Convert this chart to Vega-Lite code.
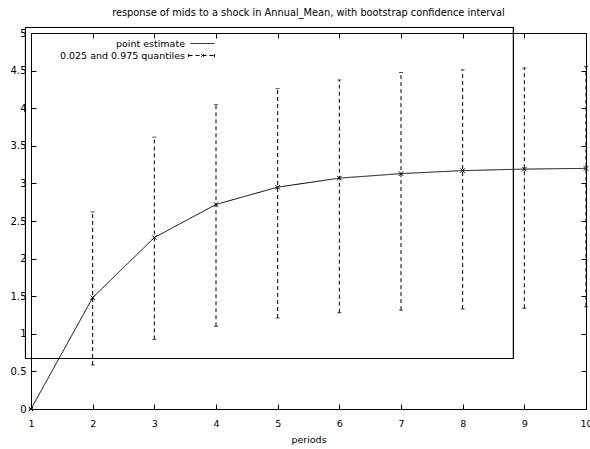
{
  "$schema": "https://vega.github.io/schema/vega-lite/v6.json",
  "width": 555,
  "height": 376,
  "autosize": {"type": "none"},
  "padding": {"left": 31, "top": 33, "right": 4, "bottom": 40},
  "background": "white",
  "config": {"view": {"stroke": null}, "font": "DejaVu Sans"},
  "title": {
    "text": "response of mids to a shock in Annual_Mean, with bootstrap confidence interval",
    "fontSize": 9.8, "fontWeight": "normal", "font": "DejaVu Sans", "color": "black",
    "anchor": "middle", "offset": 1, "baseline": "alphabetic"
  },
  "data": {"values": [
    {"period": 1, "est": 0, "lo": 0, "hi": 0},
    {"period": 2, "est": 1.48, "lo": 0.585, "hi": 2.62},
    {"period": 3, "est": 2.28, "lo": 0.925, "hi": 3.615},
    {"period": 4, "est": 2.72, "lo": 1.10, "hi": 4.05},
    {"period": 5, "est": 2.95, "lo": 1.21, "hi": 4.26},
    {"period": 6, "est": 3.07, "lo": 1.28, "hi": 4.375},
    {"period": 7, "est": 3.13, "lo": 1.315, "hi": 4.475},
    {"period": 8, "est": 3.17, "lo": 1.33, "hi": 4.51},
    {"period": 9, "est": 3.19, "lo": 1.34, "hi": 4.535},
    {"period": 10, "est": 3.20, "lo": 1.36, "hi": 4.555}
  ]},
  "layer": [
    {
      "mark": {"type": "rect", "fill": null, "stroke": "black", "strokeWidth": 1, "clip": false},
      "encoding": {
        "x": {"datum": 0.9108, "type": "quantitative", "scale": {"domain": [1, 10], "nice": false, "zero": false}, "axis": null},
        "x2": {"datum": 8.824},
        "y": {"datum": 0.6715, "type": "quantitative", "scale": {"domain": [0, 5], "nice": false}, "axis": null},
        "y2": {"datum": 5.0731}
      }
    },
    {
      "mark": {"type": "rule", "color": "black", "strokeWidth": 1, "clip": false},
      "encoding": {
        "x": {"field": "period", "type": "quantitative",
          "axis": {"orient": "bottom", "values": [1,2,3,4,5,6,7,8,9,10], "format": "d", "title": "periods",
            "grid": false, "domainColor": "black", "domainWidth": 1, "tickColor": "black", "tickSize": -5, "tickWidth": 1,
            "labelFont": "DejaVu Sans", "labelFontSize": 9.5, "labelColor": "black", "labelPadding": 14, "labelFlush": false,
            "titleFont": "DejaVu Sans", "titleFontSize": 9.5, "titleFontWeight": "normal", "titleColor": "black", "titlePadding": 7}},
        "y": {"field": "lo", "type": "quantitative",
          "axis": {"orient": "left", "values": [0,0.5,1,1.5,2,2.5,3,3.5,4,4.5,5], "format": "~g", "title": null,
            "grid": false, "domainColor": "black", "domainWidth": 1, "tickColor": "black", "tickSize": -5, "tickWidth": 1,
            "labelFont": "DejaVu Sans", "labelFontSize": 10, "labelColor": "black", "labelPadding": 10, "labelFlush": false}},
        "y2": {"field": "hi"},
        "strokeDash": {"datum": "0.025 and 0.975 quantiles",
          "scale": {"domain": ["point estimate", "0.025 and 0.975 quantiles"], "range": [[1, 0], [4, 3]]},
          "legend": {
            "orient": "none", "legendX": 166, "legendY": 5, "title": null, "padding": 0,
            "labelFont": "DejaVu Sans", "labelFontSize": 9.5, "labelColor": "black",
            "labelAlign": "right", "labelOffset": -23,
            "symbolType": "stroke", "symbolSize": 100, "symbolStrokeWidth": 1, "symbolStrokeColor": "black",
            "rowPadding": 2,
            "encode": {"symbols": {"update": {"shape": {"signal": "datum.value == 'point estimate' ? 'M-2.4,0H2.4' : 'M-2.8,0H2.4M-0.25,-0.25L0.25,0.25M-0.25,0.25L0.25,-0.25M-2.8,-0.3V0.3M2.4,-0.3V0.3'"}}}}
          }
        }
      }
    },
    {
      "mark": {"type": "tick", "orient": "horizontal", "size": 4, "thickness": 1, "color": "black", "clip": false},
      "encoding": {
        "x": {"field": "period", "type": "quantitative", "axis": null},
        "y": {"field": "lo", "type": "quantitative", "axis": null}
      }
    },
    {
      "mark": {"type": "tick", "orient": "horizontal", "size": 4, "thickness": 1, "color": "black", "clip": false},
      "encoding": {
        "x": {"field": "period", "type": "quantitative", "axis": null},
        "y": {"field": "hi", "type": "quantitative", "axis": null}
      }
    },
    {
      "mark": {"type": "line", "color": "black", "strokeWidth": 1, "clip": false},
      "encoding": {
        "x": {"field": "period", "type": "quantitative",
          "axis": {"orient": "top", "values": [1,2,3,4,5,6,7,8,9,10], "labels": false, "title": null,
            "grid": false, "domainColor": "black", "domainWidth": 1, "tickColor": "black", "tickSize": -5, "tickWidth": 1,
            "minExtent": 0, "maxExtent": 0}},
        "y": {"field": "est", "type": "quantitative",
          "axis": {"orient": "right", "values": [0,0.5,1,1.5,2,2.5,3,3.5,4,4.5,5], "labels": false, "title": null,
            "grid": false, "domainColor": "black", "domainWidth": 1, "tickColor": "black", "tickSize": -5, "tickWidth": 1,
            "minExtent": 0, "maxExtent": 0}},
        "strokeDash": {"datum": "point estimate"}
      }
    },
    {
      "mark": {"type": "point", "shape": "M-1,-1L1,1M-1,1L1,-1", "size": 20, "filled": false, "stroke": "black", "strokeWidth": 1, "opacity": 1, "clip": false},
      "encoding": {
        "x": {"field": "period", "type": "quantitative", "axis": null},
        "y": {"field": "est", "type": "quantitative", "axis": null}
      }
    }
  ],
  "resolve": {"axis": {"x": "independent", "y": "independent"}}
}
